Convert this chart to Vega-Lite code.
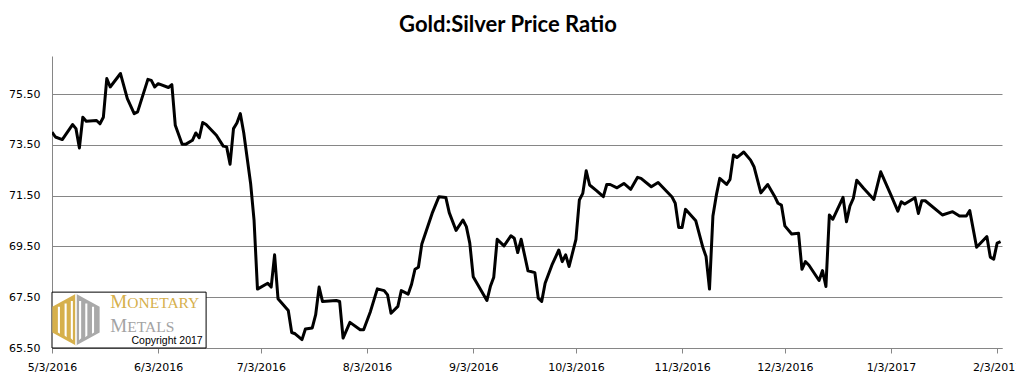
{
  "$schema": "https://vega.github.io/schema/vega-lite/v6.json",
  "width": 950,
  "height": 292,
  "autosize": {"type": "none"},
  "padding": {"left": 52, "top": 56, "right": 14, "bottom": 35},
  "background": "white",
  "title": {"text": "Gold:Silver Price Ratio", "font": "Lato", "fontSize": 22, "fontWeight": "bold", "anchor": "middle", "dx": -19, "offset": 19, "color": "#000000"},
  "config": {
    "view": {"stroke": null},
    "axisX": {"title": null, "grid": false, "domainColor": "#868686", "domainWidth": 1, "tickColor": "#868686", "tickSize": 5, "tickWidth": 1,
      "labelFont": "DejaVu Sans", "labelFontSize": 11, "labelColor": "#000000", "labelPadding": 8, "labelOverlap": false, "labelFlush": false, "labelBound": false},
    "axisY": {"title": null, "grid": true, "gridColor": "#868686", "gridWidth": 1, "gridOpacity": 1, "domainColor": "#868686", "domainWidth": 1, "ticks": false, "tickSize": 0,
      "labelFont": "DejaVu Sans", "labelFontSize": 11, "labelColor": "#000000", "labelPadding": 12}
  },
  "layer": [
    {
      "data": {"values": [
        {"date": "2016-05-03", "ratio": 74.00}, {"date": "2016-05-04", "ratio": 73.81}, {"date": "2016-05-06", "ratio": 73.71},
        {"date": "2016-05-09", "ratio": 74.30}, {"date": "2016-05-10", "ratio": 74.14}, {"date": "2016-05-11", "ratio": 73.38},
        {"date": "2016-05-12", "ratio": 74.59}, {"date": "2016-05-13", "ratio": 74.43}, {"date": "2016-05-16", "ratio": 74.46},
        {"date": "2016-05-17", "ratio": 74.33}, {"date": "2016-05-18", "ratio": 74.59}, {"date": "2016-05-19", "ratio": 76.11},
        {"date": "2016-05-20", "ratio": 75.78}, {"date": "2016-05-23", "ratio": 76.31}, {"date": "2016-05-25", "ratio": 75.32},
        {"date": "2016-05-27", "ratio": 74.73}, {"date": "2016-05-28", "ratio": 74.80}, {"date": "2016-05-31", "ratio": 76.08},
        {"date": "2016-06-01", "ratio": 76.04}, {"date": "2016-06-02", "ratio": 75.78}, {"date": "2016-06-03", "ratio": 75.91},
        {"date": "2016-06-06", "ratio": 75.76}, {"date": "2016-06-07", "ratio": 75.87}, {"date": "2016-06-08", "ratio": 74.27},
        {"date": "2016-06-10", "ratio": 73.52}, {"date": "2016-06-11", "ratio": 73.52}, {"date": "2016-06-13", "ratio": 73.68},
        {"date": "2016-06-14", "ratio": 73.97}, {"date": "2016-06-15", "ratio": 73.78}, {"date": "2016-06-16", "ratio": 74.38},
        {"date": "2016-06-17", "ratio": 74.30}, {"date": "2016-06-20", "ratio": 73.88}, {"date": "2016-06-22", "ratio": 73.45},
        {"date": "2016-06-23", "ratio": 73.42}, {"date": "2016-06-24", "ratio": 72.74}, {"date": "2016-06-25", "ratio": 74.14},
        {"date": "2016-06-26", "ratio": 74.36}, {"date": "2016-06-27", "ratio": 74.73}, {"date": "2016-06-28", "ratio": 73.97},
        {"date": "2016-06-30", "ratio": 71.98}, {"date": "2016-07-01", "ratio": 70.54}, {"date": "2016-07-02", "ratio": 67.82},
        {"date": "2016-07-05", "ratio": 68.05}, {"date": "2016-07-06", "ratio": 67.90}, {"date": "2016-07-07", "ratio": 69.17},
        {"date": "2016-07-08", "ratio": 67.44}, {"date": "2016-07-11", "ratio": 66.98}, {"date": "2016-07-12", "ratio": 66.11},
        {"date": "2016-07-13", "ratio": 66.06}, {"date": "2016-07-15", "ratio": 65.83}, {"date": "2016-07-16", "ratio": 66.25},
        {"date": "2016-07-18", "ratio": 66.29}, {"date": "2016-07-19", "ratio": 66.81}, {"date": "2016-07-20", "ratio": 67.90},
        {"date": "2016-07-21", "ratio": 67.33}, {"date": "2016-07-25", "ratio": 67.37}, {"date": "2016-07-26", "ratio": 67.33},
        {"date": "2016-07-27", "ratio": 65.89}, {"date": "2016-07-29", "ratio": 66.51}, {"date": "2016-08-01", "ratio": 66.22},
        {"date": "2016-08-02", "ratio": 66.22}, {"date": "2016-08-04", "ratio": 66.94}, {"date": "2016-08-06", "ratio": 67.83},
        {"date": "2016-08-08", "ratio": 67.76}, {"date": "2016-08-09", "ratio": 67.59}, {"date": "2016-08-10", "ratio": 66.87},
        {"date": "2016-08-12", "ratio": 67.14}, {"date": "2016-08-13", "ratio": 67.76}, {"date": "2016-08-15", "ratio": 67.62},
        {"date": "2016-08-16", "ratio": 68.01}, {"date": "2016-08-17", "ratio": 68.60}, {"date": "2016-08-18", "ratio": 68.68},
        {"date": "2016-08-19", "ratio": 69.60}, {"date": "2016-08-22", "ratio": 70.80}, {"date": "2016-08-24", "ratio": 71.46},
        {"date": "2016-08-26", "ratio": 71.43}, {"date": "2016-08-27", "ratio": 70.83}, {"date": "2016-08-29", "ratio": 70.13},
        {"date": "2016-08-31", "ratio": 70.54}, {"date": "2016-09-01", "ratio": 70.28}, {"date": "2016-09-02", "ratio": 69.63},
        {"date": "2016-09-03", "ratio": 68.31}, {"date": "2016-09-07", "ratio": 67.37}, {"date": "2016-09-08", "ratio": 67.92},
        {"date": "2016-09-09", "ratio": 68.29}, {"date": "2016-09-10", "ratio": 69.78}, {"date": "2016-09-12", "ratio": 69.52},
        {"date": "2016-09-14", "ratio": 69.92}, {"date": "2016-09-15", "ratio": 69.82}, {"date": "2016-09-16", "ratio": 69.26},
        {"date": "2016-09-17", "ratio": 69.78}, {"date": "2016-09-19", "ratio": 68.54}, {"date": "2016-09-21", "ratio": 68.47},
        {"date": "2016-09-22", "ratio": 67.46}, {"date": "2016-09-23", "ratio": 67.33}, {"date": "2016-09-24", "ratio": 68.05},
        {"date": "2016-09-26", "ratio": 68.77}, {"date": "2016-09-28", "ratio": 69.36}, {"date": "2016-09-29", "ratio": 68.90},
        {"date": "2016-09-30", "ratio": 69.17}, {"date": "2016-10-01", "ratio": 68.71}, {"date": "2016-10-03", "ratio": 69.78},
        {"date": "2016-10-04", "ratio": 71.33}, {"date": "2016-10-05", "ratio": 71.59}, {"date": "2016-10-06", "ratio": 72.48},
        {"date": "2016-10-07", "ratio": 71.92}, {"date": "2016-10-09", "ratio": 71.70}, {"date": "2016-10-11", "ratio": 71.46},
        {"date": "2016-10-12", "ratio": 71.94}, {"date": "2016-10-13", "ratio": 71.94}, {"date": "2016-10-15", "ratio": 71.81},
        {"date": "2016-10-17", "ratio": 71.98}, {"date": "2016-10-19", "ratio": 71.75}, {"date": "2016-10-21", "ratio": 72.22},
        {"date": "2016-10-22", "ratio": 72.18}, {"date": "2016-10-25", "ratio": 71.85}, {"date": "2016-10-27", "ratio": 72.02},
        {"date": "2016-10-31", "ratio": 71.46}, {"date": "2016-11-01", "ratio": 71.20}, {"date": "2016-11-02", "ratio": 70.25},
        {"date": "2016-11-03", "ratio": 70.25}, {"date": "2016-11-04", "ratio": 70.96}, {"date": "2016-11-07", "ratio": 70.51},
        {"date": "2016-11-09", "ratio": 69.49}, {"date": "2016-11-10", "ratio": 69.10}, {"date": "2016-11-11", "ratio": 67.82},
        {"date": "2016-11-12", "ratio": 70.70}, {"date": "2016-11-13", "ratio": 71.52}, {"date": "2016-11-14", "ratio": 72.18},
        {"date": "2016-11-16", "ratio": 71.94}, {"date": "2016-11-17", "ratio": 72.14}, {"date": "2016-11-18", "ratio": 73.10},
        {"date": "2016-11-19", "ratio": 73.00}, {"date": "2016-11-21", "ratio": 73.22}, {"date": "2016-11-23", "ratio": 72.90},
        {"date": "2016-11-24", "ratio": 72.64}, {"date": "2016-11-26", "ratio": 71.61}, {"date": "2016-11-28", "ratio": 71.94},
        {"date": "2016-11-30", "ratio": 71.48}, {"date": "2016-12-01", "ratio": 71.20}, {"date": "2016-12-02", "ratio": 71.13},
        {"date": "2016-12-03", "ratio": 70.31}, {"date": "2016-12-05", "ratio": 69.99}, {"date": "2016-12-07", "ratio": 70.02},
        {"date": "2016-12-08", "ratio": 68.60}, {"date": "2016-12-09", "ratio": 68.90}, {"date": "2016-12-10", "ratio": 68.77},
        {"date": "2016-12-13", "ratio": 68.16}, {"date": "2016-12-14", "ratio": 68.55}, {"date": "2016-12-15", "ratio": 67.92},
        {"date": "2016-12-16", "ratio": 70.74}, {"date": "2016-12-17", "ratio": 70.57}, {"date": "2016-12-20", "ratio": 71.43},
        {"date": "2016-12-21", "ratio": 70.47}, {"date": "2016-12-22", "ratio": 71.09}, {"date": "2016-12-23", "ratio": 71.39},
        {"date": "2016-12-24", "ratio": 72.11}, {"date": "2016-12-26", "ratio": 71.79}, {"date": "2016-12-29", "ratio": 71.35},
        {"date": "2016-12-31", "ratio": 72.44}, {"date": "2017-01-03", "ratio": 71.52}, {"date": "2017-01-05", "ratio": 70.89},
        {"date": "2017-01-06", "ratio": 71.26}, {"date": "2017-01-07", "ratio": 71.17}, {"date": "2017-01-10", "ratio": 71.42},
        {"date": "2017-01-11", "ratio": 70.80}, {"date": "2017-01-12", "ratio": 71.30}, {"date": "2017-01-13", "ratio": 71.30},
        {"date": "2017-01-18", "ratio": 70.74}, {"date": "2017-01-21", "ratio": 70.87}, {"date": "2017-01-23", "ratio": 70.70},
        {"date": "2017-01-25", "ratio": 70.70}, {"date": "2017-01-26", "ratio": 70.91}, {"date": "2017-01-28", "ratio": 69.47},
        {"date": "2017-01-31", "ratio": 69.89}, {"date": "2017-02-01", "ratio": 69.08}, {"date": "2017-02-02", "ratio": 69.00},
        {"date": "2017-02-03", "ratio": 69.63}, {"date": "2017-02-04", "ratio": 69.69}
      ]},
      "mark": {"type": "line", "color": "#000000", "strokeWidth": 3, "strokeJoin": "round", "clip": true},
      "encoding": {
        "x": {
          "field": "date", "type": "temporal",
          "scale": {"type": "utc", "domain": [{"year": 2016, "month": 5, "date": 3, "utc": true}, {"year": 2017, "month": 2, "date": 4, "hours": 10, "utc": true}]},
          "axis": {
            "format": "%-m/%-d/%Y",
            "values": [
              {"year": 2016, "month": 5, "date": 3, "utc": true}, {"year": 2016, "month": 6, "date": 3, "utc": true},
              {"year": 2016, "month": 7, "date": 3, "utc": true}, {"year": 2016, "month": 8, "date": 3, "utc": true},
              {"year": 2016, "month": 9, "date": 3, "utc": true}, {"year": 2016, "month": 10, "date": 3, "utc": true},
              {"year": 2016, "month": 11, "date": 3, "utc": true}, {"year": 2016, "month": 12, "date": 3, "utc": true},
              {"year": 2017, "month": 1, "date": 3, "utc": true}, {"year": 2017, "month": 2, "date": 3, "utc": true}
            ]
          }
        },
        "y": {
          "field": "ratio", "type": "quantitative",
          "scale": {"domain": [65.5, 77], "zero": false, "nice": false},
          "axis": {"values": [65.5, 67.5, 69.5, 71.5, 73.5, 75.5], "format": ".2f"}
        }
      }
    },
    {
      "data": {"values": [{"item": "logo box"}]},
      "mark": {"type": "rect", "fill": "#ffffff", "stroke": "#000000", "strokeWidth": 1},
      "encoding": {
        "x": {"datum": {"year": 2016, "month": 5, "date": 3, "utc": true}, "type": "temporal"},
        "x2": {"datum": {"year": 2016, "month": 6, "date": 17, "utc": true}},
        "y": {"datum": 65.5, "type": "quantitative"},
        "y2": {"datum": 67.7}
      }
    },
    {
      "data": {"values": [{"item": "logo gold"}]},
      "mark": {"type": "point", "filled": true, "fill": "#D6B04C", "opacity": 1, "strokeWidth": 0, "size": 2673, "shape": "M0,-1L-0.915,-0.5L-0.915,0.5L0,1Z"},
      "encoding": {
        "x": {"datum": {"year": 2016, "month": 5, "date": 10, "utc": true}, "type": "temporal"},
        "y": {"datum": 66.62, "type": "quantitative"}
      }
    },
    {
      "data": {"values": [{"item": "logo gray"}]},
      "mark": {"type": "point", "filled": true, "fill": "#A9A9A9", "opacity": 1, "strokeWidth": 0, "size": 2673, "shape": "M0,-1L0.915,-0.5L0.915,0.5L0,1Z"},
      "encoding": {
        "x": {"datum": {"year": 2016, "month": 5, "date": 10, "utc": true}, "type": "temporal"},
        "y": {"datum": 66.62, "type": "quantitative"}
      }
    },
    {
      "data": {"values": [{"item": "logo bars"}]},
      "mark": {"type": "point", "filled": true, "fill": "#ffffff", "opacity": 1, "strokeWidth": 0, "size": 2673, "shape": "M-0.7,-0.5L-0.62,-0.5L-0.62,0.55L-0.7,0.5Z M-0.44,-0.62L-0.36,-0.62L-0.36,0.68L-0.44,0.62Z M-0.2,-0.72L-0.12,-0.72L-0.12,0.8L-0.2,0.72Z M-0.03,-1L0.03,-1L0.03,1L-0.03,1Z M0.12,-0.72L0.2,-0.72L0.2,0.72L0.12,0.8Z M0.36,-0.62L0.44,-0.62L0.44,0.62L0.36,0.68Z M0.62,-0.5L0.7,-0.5L0.7,0.5L0.62,0.55Z"},
      "encoding": {
        "x": {"datum": {"year": 2016, "month": 5, "date": 10, "utc": true}, "type": "temporal"},
        "y": {"datum": 66.62, "type": "quantitative"}
      }
    },
    {
      "data": {"values": [{"label": "M"}]},
      "mark": {"type": "text", "font": "Liberation Serif", "fontSize": 19, "color": "#D6B04C", "align": "left", "baseline": "alphabetic"},
      "encoding": {
        "x": {"datum": {"year": 2016, "month": 5, "date": 20, "utc": true}, "type": "temporal"},
        "y": {"datum": 67.07, "type": "quantitative"},
        "text": {"field": "label"}
      }
    },
    {
      "data": {"values": [{"label": "ONETARY"}]},
      "mark": {"type": "text", "font": "Liberation Serif", "fontSize": 15.5, "color": "#D6B04C", "align": "left", "baseline": "alphabetic"},
      "encoding": {
        "x": {"datum": {"year": 2016, "month": 5, "date": 25, "utc": true}, "type": "temporal"},
        "y": {"datum": 67.07, "type": "quantitative"},
        "text": {"field": "label"}
      }
    },
    {
      "data": {"values": [{"label": "M"}]},
      "mark": {"type": "text", "font": "Liberation Serif", "fontSize": 19, "color": "#A3A3A3", "align": "left", "baseline": "alphabetic"},
      "encoding": {
        "x": {"datum": {"year": 2016, "month": 5, "date": 20, "utc": true}, "type": "temporal"},
        "y": {"datum": 66.13, "type": "quantitative"},
        "text": {"field": "label"}
      }
    },
    {
      "data": {"values": [{"label": "ETALS"}]},
      "mark": {"type": "text", "font": "Liberation Serif", "fontSize": 15.5, "color": "#A3A3A3", "align": "left", "baseline": "alphabetic"},
      "encoding": {
        "x": {"datum": {"year": 2016, "month": 5, "date": 25, "utc": true}, "type": "temporal"},
        "y": {"datum": 66.13, "type": "quantitative"},
        "text": {"field": "label"}
      }
    },
    {
      "data": {"values": [{"label": "Copyright 2017"}]},
      "mark": {"type": "text", "font": "Liberation Sans", "fontSize": 10.5, "color": "#000000", "align": "right", "baseline": "alphabetic"},
      "encoding": {
        "x": {"datum": {"year": 2016, "month": 6, "date": 16, "utc": true}, "type": "temporal"},
        "y": {"datum": 65.64, "type": "quantitative"},
        "text": {"field": "label"}
      }
    }
  ]
}
